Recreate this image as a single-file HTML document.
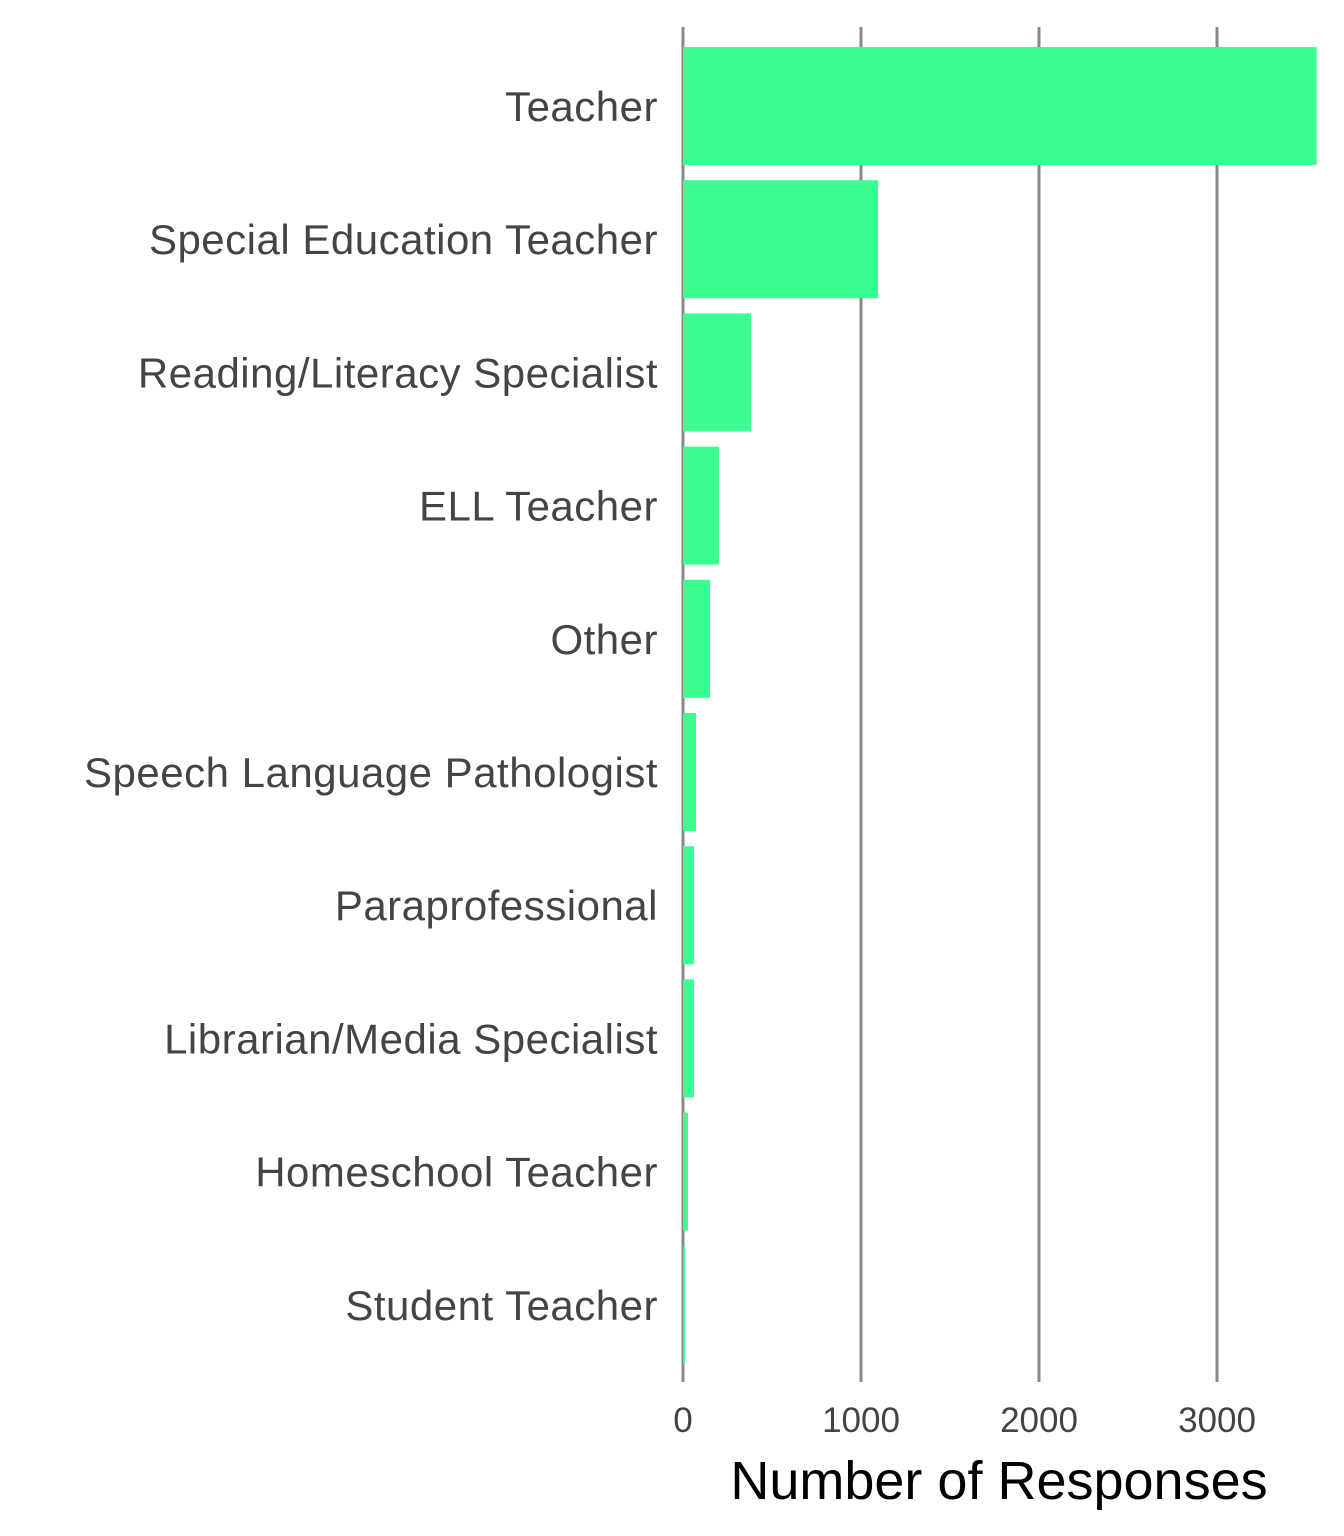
<!DOCTYPE html>
<html><head><meta charset="utf-8"><style>
html,body{margin:0;padding:0;background:#fff;}
svg{display:block;font-family:"Liberation Sans",sans-serif;}
</style></head><body>
<svg id="chart" width="1344" height="1536"></svg>
<script>
const categories=["Teacher","Special Education Teacher","Reading/Literacy Specialist","ELL Teacher","Other","Speech Language Pathologist","Paraprofessional","Librarian/Media Specialist","Homeschool Teacher","Student Teacher"];
const values=[3560,1096,382,202,152,73,62,62,28,11];
const ticks=[0,1000,2000,3000];
const tickLabels=["0","1000","2000","3000"];
const NS="http://www.w3.org/2000/svg";
const svg=document.getElementById('chart');
const x0=683,pxPer=0.178;
const xs=v=>x0+v*pxPer;
const yTop=47,step=133.2,bh=118;
const ys=i=>yTop+i*step;
function mk(t,a){const e=document.createElementNS(NS,t);for(const k in a)e.setAttribute(k,a[k]);svg.appendChild(e);return e;}
ticks.forEach((t,i)=>{
  const g=mk('line',{x1:xs(t),x2:xs(t),y1:27,y2:1382,stroke:'#888',"stroke-width":3});
  
  
  const l=mk('text',{x:xs(t),y:1432,"text-anchor":"middle","font-size":35,fill:'#444'});
  l.textContent=tickLabels[i];
  
  
});
categories.forEach((c,i)=>{
  const r=mk('rect',{x:x0,y:ys(i),width:Math.max(0,xs(values[i])-x0),height:bh,fill:'#3dfe90'});
  
  
  const t=mk('text',{x:658,y:ys(i)+bh/2+15,"text-anchor":"end","font-size":42,"letter-spacing":0.5,fill:'#444'});
  t.textContent=c;
  
  
});
const tt=mk('text',{x:999,y:1499,"text-anchor":"middle","font-size":54,fill:'#000'});
tt.textContent="Number of Responses";


</script>
</body></html>
